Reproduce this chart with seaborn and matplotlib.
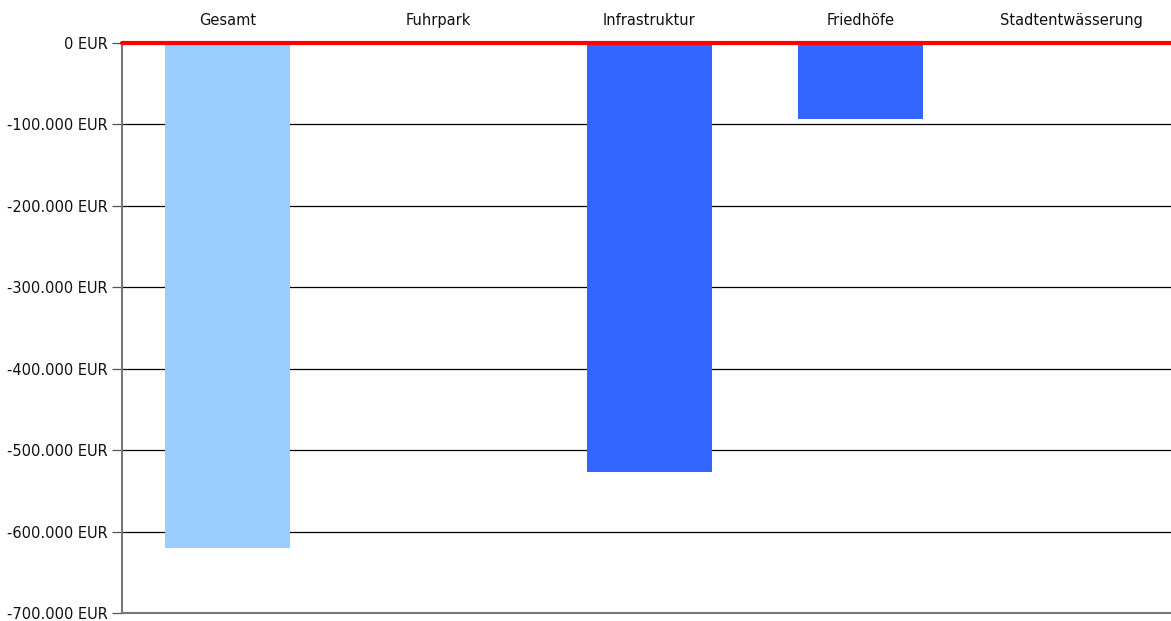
import matplotlib
matplotlib.use("Agg")
import matplotlib.pyplot as plt
from matplotlib.ticker import FuncFormatter, MultipleLocator
import seaborn as sns
import pandas as pd

# Budget deviations per area (EUR)
categories = ["Gesamt", "Fuhrpark", "Infrastruktur", "Friedhöfe", "Stadtentwässerung"]
values = [-620000, 0, -527000, -93000, 0]
bar_colors = ["#99CCFF", "#3366FF", "#3366FF", "#3366FF", "#3366FF"]

df = pd.DataFrame({"Bereich": categories, "Wert": values})

sns.set_theme(style="white")
plt.rcParams["font.family"] = ["DejaVu Sans"]

fig = plt.figure(figsize=(11.71, 6.21), dpi=100)
# plot area runs slightly past the right edge of the canvas
ax = fig.add_axes([122 / 1171, 1 - 613 / 621, 1055 / 1171, (613 - 43) / 621])

sns.barplot(data=df, x="Bereich", y="Wert", hue="Bereich", palette=bar_colors,
            width=0.59, legend=False, ax=ax, saturation=1, linewidth=0,
            edgecolor="none", zorder=3)

ax.set_ylim(-700000, 0)
ax.set_xlim(-0.5, len(categories) - 0.5)
ax.yaxis.set_major_locator(MultipleLocator(100000))

def eur(v, pos):
    s = f"{int(round(v)):,}".replace(",", ".")
    return f"{s} EUR"

ax.yaxis.set_major_formatter(FuncFormatter(eur))
ax.grid(axis="y", color="black", linewidth=0.9, zorder=0)
ax.set_axisbelow(True)

# Zero line
ax.axhline(0, color="#FF0000", linewidth=3, zorder=5, clip_on=False)

ax.xaxis.tick_top()
ax.tick_params(axis="x", length=0, labelsize=10.5, pad=11, colors="#111111")
ax.tick_params(axis="y", length=7, width=0.9, color="#555555", labelsize=10.5, pad=3, left=True)
for lbl in ax.get_yticklabels():
    lbl.set_color("#111111")
ax.set_xlabel("")
ax.set_ylabel("")

for side in ["top", "right"]:
    ax.spines[side].set_visible(False)
ax.spines["left"].set_color("#777777")
ax.spines["left"].set_linewidth(1.5)
ax.spines["bottom"].set_color("#777777")
ax.spines["bottom"].set_linewidth(1.5)

fig.savefig("out.png", dpi=100)
